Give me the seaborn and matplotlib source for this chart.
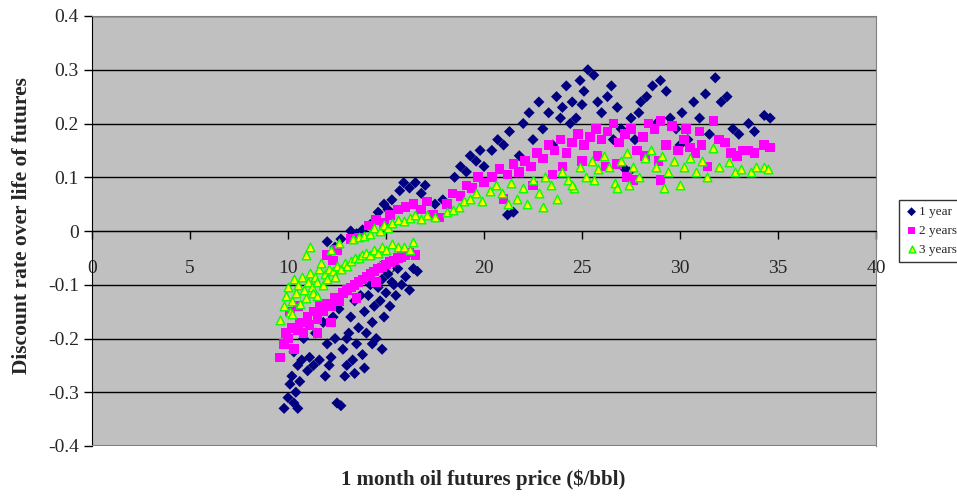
import matplotlib
matplotlib.use('Agg')
import matplotlib.pyplot as plt
import seaborn as sns
import pandas as pd

# ---------------------------------------------------------------------------
# data: 1 month futures price vs discount rate
# ---------------------------------------------------------------------------
yr1_x = [9.8, 10.0, 10.1, 10.2, 10.3, 10.4, 10.5, 10.3, 10.5, 10.6, 10.7, 10.8, 11.0, 11.1,
         11.3, 11.4, 11.6, 11.8, 12.0, 12.2, 12.4, 12.5, 12.7, 12.3, 12.6, 12.8, 13.0, 13.1,
         13.2, 13.3, 13.4, 13.5, 13.6, 13.7, 13.8, 13.9, 14.0, 14.1, 14.2, 14.3, 14.4, 14.5,
         14.6, 14.7, 14.8, 14.9, 15.0, 15.1, 15.2, 15.3, 15.5, 15.6, 15.8, 16.0, 16.2, 16.4,
         16.6, 13.4, 13.9, 14.8, 12.9, 11.9, 14.3, 15.4, 13.0, 12.1,
         12.0, 12.4, 12.7, 13.2, 13.5, 13.8, 14.2, 14.6, 14.9, 15.1, 15.3, 15.7, 15.9, 16.2,
         16.5, 16.8, 17.0, 17.5, 17.9,
         18.5, 18.8, 19.1, 19.3, 19.6, 19.8, 20.0, 20.4, 20.7, 21.0, 21.3, 21.2, 21.5, 21.8,
         22.0, 22.3, 22.5, 22.8, 23.0, 23.3, 23.5, 23.7, 24.0, 24.2, 24.5, 24.7, 24.9, 25.1,
         25.3, 25.6, 25.8, 26.0, 26.3, 26.5, 26.8, 27.0, 27.2, 27.4, 27.5, 27.7, 28.0, 28.3,
         28.6, 29.0, 29.3, 29.5, 29.8, 30.1, 30.4, 30.7, 31.0, 31.3, 31.5, 31.8, 32.1, 32.4,
         32.7, 33.0, 33.5, 33.8, 34.3, 34.6, 26.6, 28.8, 30.0, 24.4, 25.0, 23.9, 27.9]
yr1_y = [-0.33, -0.31, -0.285, -0.27, -0.32, -0.30, -0.33, -0.225, -0.25, -0.28, -0.24, -0.20,
         -0.26, -0.235, -0.25, -0.19, -0.24, -0.17, -0.21, -0.235, -0.20, -0.32, -0.325, -0.16,
         -0.145, -0.22, -0.25, -0.19, -0.16, -0.24, -0.13, -0.21, -0.18, -0.12, -0.23, -0.15,
         -0.19, -0.12, -0.10, -0.17, -0.14, -0.20, -0.105, -0.13, -0.09, -0.16, -0.115, -0.08,
         -0.14, -0.095, -0.12, -0.07, -0.10, -0.085, -0.11, -0.07, -0.075, -0.265, -0.255,
         -0.22, -0.27, -0.27, -0.21, -0.10, -0.20, -0.25,
         -0.02, -0.03, -0.015, 0.0, -0.005, 0.002, 0.012, 0.035, 0.05, 0.04, 0.058, 0.075, 0.09,
         0.08, 0.09, 0.07, 0.085, 0.05, 0.058,
         0.10, 0.12, 0.11, 0.14, 0.13, 0.15, 0.12, 0.15, 0.17, 0.16, 0.185, 0.03, 0.035, 0.14,
         0.20, 0.22, 0.17, 0.24, 0.19, 0.22, 0.16, 0.25, 0.23, 0.27, 0.24, 0.21, 0.28, 0.26,
         0.30, 0.29, 0.24, 0.22, 0.25, 0.27, 0.23, 0.19, 0.115, 0.11, 0.21, 0.17, 0.24, 0.25,
         0.27, 0.28, 0.26, 0.21, 0.19, 0.22, 0.17, 0.24, 0.21, 0.255, 0.18, 0.285, 0.24, 0.25,
         0.19, 0.18, 0.20, 0.185, 0.215, 0.21, 0.17, 0.20, 0.16, 0.20, 0.235, 0.21, 0.22]

yr2_x = [9.6, 9.8, 9.9, 10.0, 10.2, 10.3, 10.5, 10.6, 10.8, 11.0, 11.1, 11.3, 11.5, 11.6, 11.8,
         12.0, 12.2, 12.4, 12.6, 12.8, 13.0, 13.2, 13.4, 13.6, 13.8, 14.0, 14.2, 14.4, 14.6,
         14.8, 15.0, 15.2, 15.4, 15.6, 15.8, 16.0, 16.2, 16.5, 12.2, 11.5, 10.5, 10.1, 13.5,
         14.5,
         12.0, 12.3, 12.5, 13.2, 13.6, 14.1, 14.5, 14.9, 15.2, 15.6, 16.0, 16.4, 16.8, 17.1,
         17.4, 17.7, 18.1, 18.4, 18.8, 19.1, 19.4, 19.7, 20.0, 20.4, 20.8, 21.2, 21.0, 21.5,
         21.8, 22.1, 22.4, 22.7, 23.0, 23.3, 23.6, 23.9, 24.2, 24.5, 24.8, 25.1, 25.4, 25.7,
         26.0, 26.3, 26.6, 26.9, 27.2, 27.5, 27.8, 28.1, 28.4, 28.7, 29.0, 29.3, 29.6, 29.9,
         30.2, 30.5, 30.8, 31.1, 31.4, 31.7, 32.0, 32.3, 32.6, 32.9, 33.2, 33.5, 33.8, 34.3,
         34.6, 26.2, 26.8, 27.3, 27.6, 29.0, 28.2, 28.9, 22.5, 23.5, 24.0, 25.0, 25.8, 30.3,
         31.0]
yr2_y = [-0.235, -0.21, -0.19, -0.20, -0.18, -0.22, -0.185, -0.17, -0.19, -0.16, -0.175,
         -0.15, -0.165, -0.14, -0.15, -0.135, -0.14, -0.125, -0.13, -0.115, -0.11, -0.105,
         -0.10, -0.095, -0.09, -0.085, -0.08, -0.075, -0.07, -0.068, -0.062, -0.058, -0.055,
         -0.05, -0.048, -0.045, -0.04, -0.045, -0.17, -0.19, -0.14, -0.15, -0.125, -0.095,
         -0.045, -0.055, -0.035, -0.015, -0.012, 0.01, 0.02, 0.015, 0.03, 0.04, 0.045, 0.05,
         0.04, 0.055, 0.03, 0.025, 0.05, 0.07, 0.065, 0.085, 0.08, 0.10, 0.09, 0.10, 0.115,
         0.105, 0.06, 0.125, 0.11, 0.13, 0.12, 0.145, 0.135, 0.16, 0.15, 0.17, 0.145, 0.165,
         0.18, 0.16, 0.175, 0.19, 0.17, 0.185, 0.20, 0.165, 0.18, 0.19, 0.15, 0.175, 0.20,
         0.19, 0.205, 0.16, 0.195, 0.15, 0.17, 0.155, 0.145, 0.16, 0.12, 0.205, 0.17, 0.165,
         0.145, 0.14, 0.15, 0.15, 0.145, 0.16, 0.155, 0.12, 0.125, 0.10, 0.095, 0.095, 0.14,
         0.13, 0.085, 0.105, 0.12, 0.13, 0.14, 0.19, 0.185]

yr3_x = [9.6, 9.8, 9.9, 10.0, 10.1, 10.2, 10.3, 10.4, 10.5, 10.6, 10.7, 10.8, 10.9, 11.0, 11.1,
         11.2, 11.3, 11.4, 11.5, 11.6, 11.7, 11.8, 11.9, 12.0, 12.1, 12.3, 12.4, 12.5, 12.7,
         12.9, 13.0, 13.2, 13.4, 13.6, 13.8, 14.0, 14.2, 14.4, 14.6, 14.8, 15.0, 15.3, 15.6,
         15.9, 16.2, 10.9, 11.1, 12.2, 12.6, 10.2, 11.5,
         13.3, 13.6, 13.9, 14.2, 14.4, 14.7, 14.9, 15.1, 15.3, 15.6, 15.9, 16.2, 16.5, 16.8,
         16.4, 17.1, 17.5, 18.1, 18.4, 18.7, 19.0, 19.3, 19.6, 19.9, 20.3, 20.6, 20.9, 21.2,
         21.4, 21.7, 22.0, 22.2, 22.5, 22.8, 23.1, 23.4, 23.7, 24.0, 24.3, 24.6, 24.9, 25.2,
         25.5, 25.8, 26.1, 26.4, 26.7, 27.0, 27.3, 27.6, 27.9, 28.2, 28.5, 28.8, 29.1, 29.2,
         29.4, 29.7, 30.0, 30.2, 30.5, 30.8, 31.1, 31.4, 31.7, 32.0, 32.5, 32.8, 33.1, 33.6,
         33.9, 34.3, 34.5, 26.8, 27.4, 23.0, 24.5, 25.6]
yr3_y = [-0.165, -0.14, -0.12, -0.105, -0.15, -0.13, -0.09, -0.115, -0.10, -0.135, -0.085,
         -0.11, -0.125, -0.095, -0.078, -0.105, -0.115, -0.085, -0.095, -0.07, -0.06, -0.10,
         -0.08, -0.09, -0.07, -0.075, -0.085, -0.065, -0.07, -0.06, -0.065, -0.055, -0.05,
         -0.05, -0.045, -0.04, -0.045, -0.035, -0.04, -0.03, -0.035, -0.025, -0.03, -0.03,
         -0.035, -0.045, -0.03, -0.035, -0.022, -0.155, -0.12,
         -0.015, -0.012, -0.01, -0.005, 0.005, 0.0, 0.012, 0.005, 0.015, 0.02, 0.018, 0.025,
         0.03, 0.022, -0.02, 0.03, 0.026, 0.035, 0.04, 0.045, 0.055, 0.06, 0.07, 0.055, 0.075,
         0.085, 0.07, 0.05, 0.09, 0.06, 0.08, 0.05, 0.095, 0.07, 0.10, 0.085, 0.06, 0.11,
         0.095, 0.08, 0.12, 0.10, 0.13, 0.115, 0.14, 0.12, 0.09, 0.13, 0.145, 0.12, 0.10,
         0.135, 0.15, 0.12, 0.14, 0.08, 0.11, 0.13, 0.085, 0.12, 0.135, 0.11, 0.13, 0.10,
         0.155, 0.12, 0.128, 0.11, 0.115, 0.11, 0.12, 0.12, 0.115, 0.08, 0.085, 0.045, 0.085,
         0.095]

df1 = pd.DataFrame({'price': yr1_x, 'rate': yr1_y})
df2 = pd.DataFrame({'price': yr2_x, 'rate': yr2_y})
df3 = pd.DataFrame({'price': yr3_x, 'rate': yr3_y})

###############################################################################
sns.set_style('white')
plt.rcParams['font.family'] = ['Liberation Serif', 'DejaVu Serif']

fig = plt.figure(figsize=(9.57, 4.97), dpi=100)
ax = fig.add_axes([92/957, 1-446/497, (876-92)/957, (446-16)/497])
ax.set_facecolor('#C0C0C0')

sns.scatterplot(data=df1, x='price', y='rate', marker='D', color='#000080', s=32,
                edgecolor='none', label='1 year', ax=ax, zorder=3)
sns.scatterplot(data=df2, x='price', y='rate', marker='s', color='#FF00FF', s=48,
                edgecolor='none', label='2 years', ax=ax, zorder=4)
sns.scatterplot(data=df3, x='price', y='rate', marker='^', color='#FFFF00', s=38,
                edgecolor='#00FF00', linewidth=1, label='3 years', ax=ax, zorder=5)

ax.set_xlim(0, 40)
ax.set_ylim(-0.4, 0.4)
ax.set_xticks(range(0, 45, 5))
ax.set_yticks([0.4, 0.3, 0.2, 0.1, 0, -0.1, -0.2, -0.3, -0.4])
ax.set_yticklabels(['0.4', '0.3', '0.2', '0.1', '0', '-0.1', '-0.2', '-0.3', '-0.4'])
ax.yaxis.grid(True, color='black', linewidth=1)
ax.xaxis.grid(False)
ax.set_axisbelow(True)

# excel style: x axis crosses at 0
ax.spines['bottom'].set_position(('data', 0))
ax.spines['bottom'].set_color('black')
ax.spines['left'].set_color('black')
ax.spines['top'].set_color('#808080')
ax.spines['right'].set_color('#808080')
ax.axhline(ax.get_ylim()[0], color='#808080', linewidth=1.5, zorder=6)
ax.tick_params(axis='both', direction='out', length=6, width=1, color='black',
               labelsize=14, bottom=True, left=True)
ax.tick_params(axis='x', pad=15)
ax.set_xlabel('')
ax.set_ylabel('')

fig.text(22/957, 1-226/497, 'Discount rate over life of futures', rotation=90,
         ha='center', va='center', fontsize=15.5, fontweight='bold')
fig.text(483/957, 1-480/497, '1 month oil futures price ($/bbl)', ha='center',
         va='center', fontsize=15, fontweight='bold')

handles, labels = ax.get_legend_handles_labels()
ax.get_legend().remove()
leg = fig.legend(handles, labels, loc='upper left', bbox_to_anchor=(899/957, 1-200/497),
                 fontsize=9.5, frameon=True, fancybox=False, edgecolor='black',
                 handletextpad=0.1, borderpad=0.45, labelspacing=0.5, handlelength=1,
                 markerscale=0.8, borderaxespad=0)
leg.get_frame().set_linewidth(1)

fig.savefig('out.png', dpi=100)
